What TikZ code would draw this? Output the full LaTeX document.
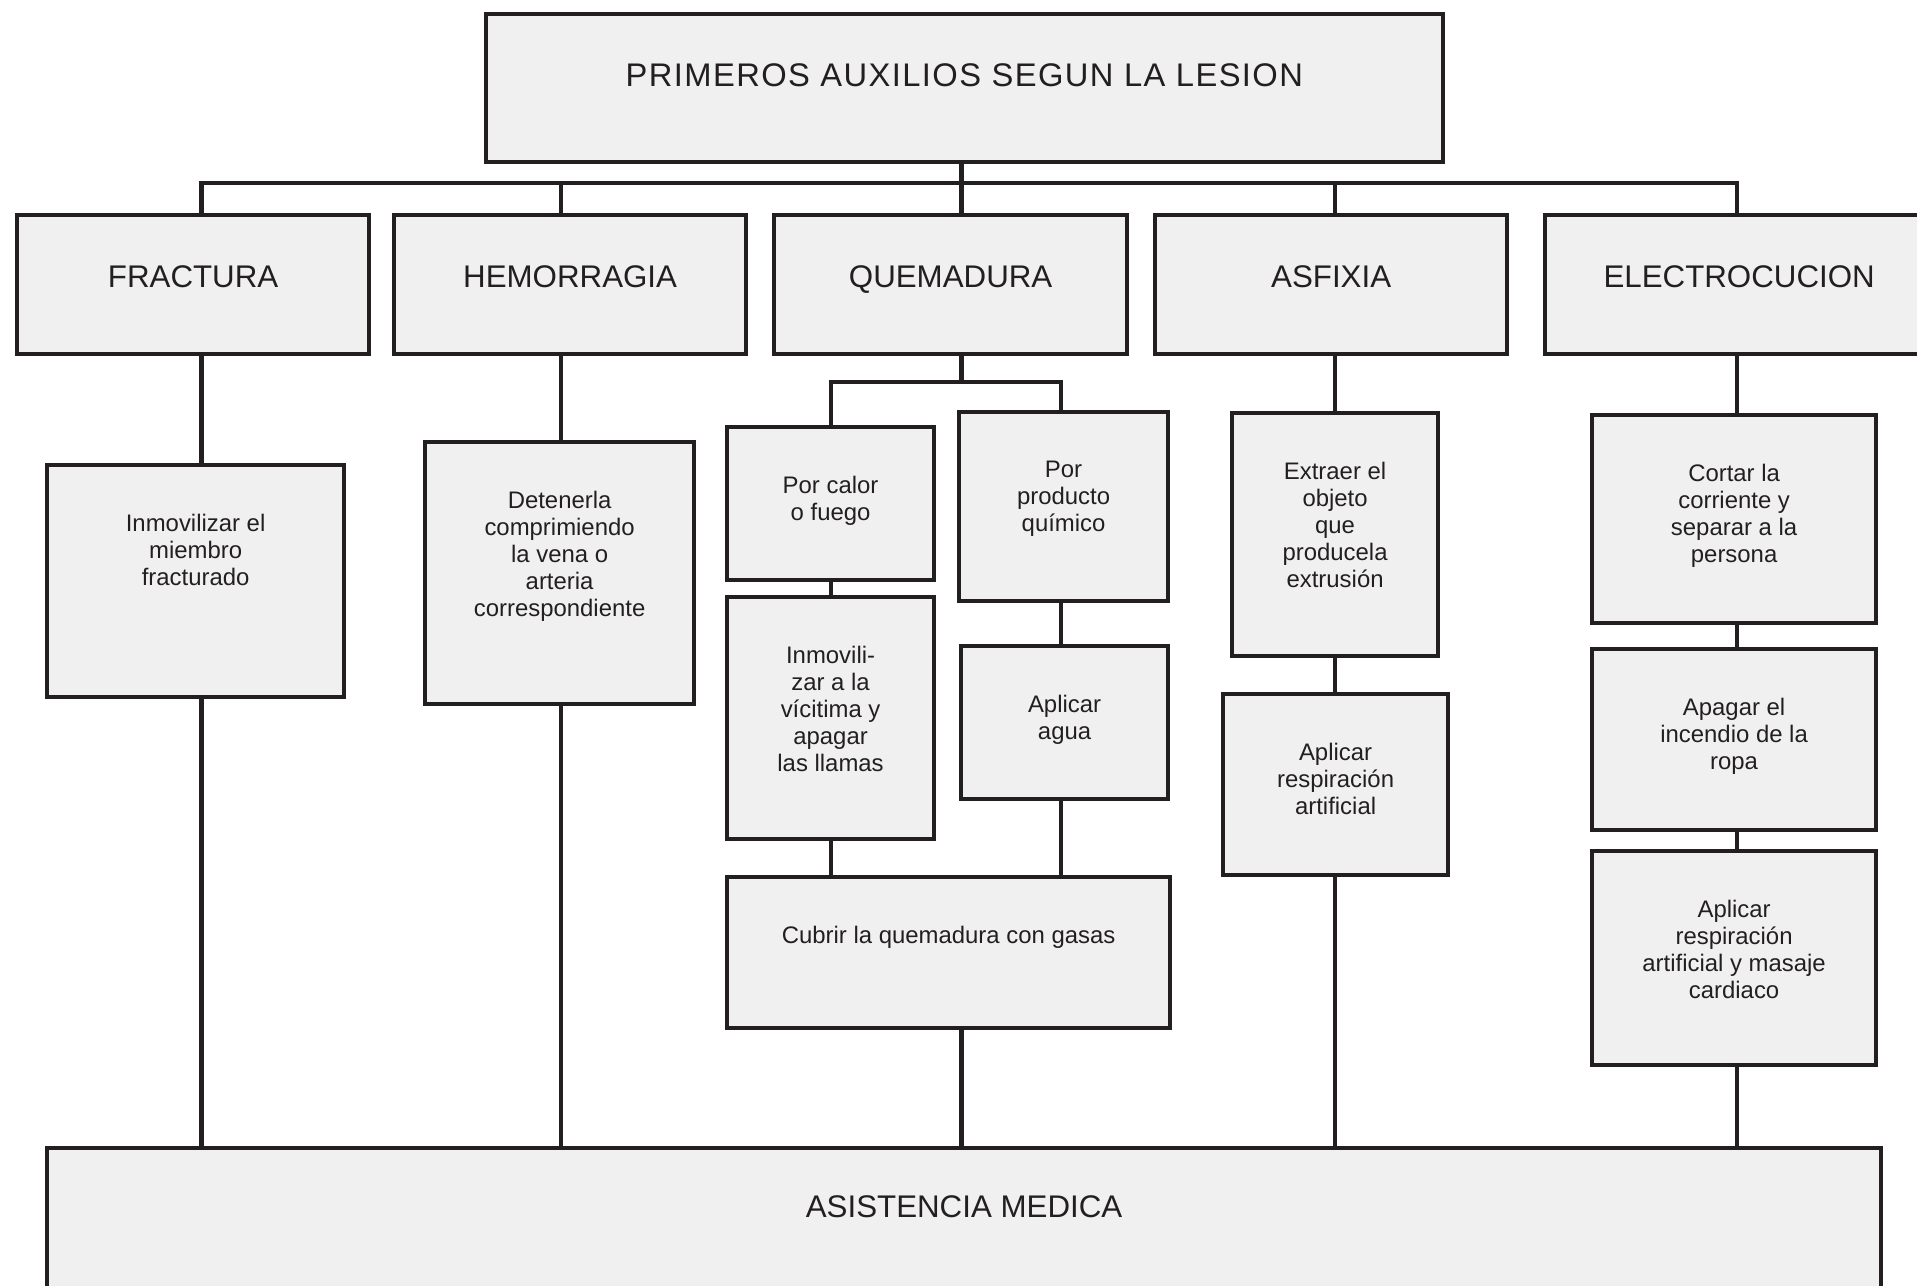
\documentclass[tikz,border=0pt]{standalone}
\usepackage{fontspec}
\setsansfont{Liberation Sans}
\usepackage{tikz}

\definecolor{fondo}{HTML}{F0F0F0}
\definecolor{linea}{HTML}{231F20}

\begin{document}
\begin{tikzpicture}[
  x=0.01cm, y=-0.01cm,
  font=\sffamily,
  caja/.style={
    draw=linea,
    fill=fondo,
    line width=1.15pt,
    anchor=north west,
    inner sep=0pt
  },
  rotulo/.style={
    font=\sffamily\fontsize{8.9}{10.7}\selectfont,
    text=linea,
    anchor=north,
    yshift=-0.52cm,
    inner sep=0pt
  },
  texto/.style={
    font=\sffamily\fontsize{6.8}{7.7}\selectfont,
    text=linea,
    align=center,
    anchor=north,
    yshift=-0.5cm,
    inner sep=0pt
  },
  enlace/.style={
    draw=linea,
    line width=1.15pt
  }
]
\useasboundingbox (0,0) rectangle (1917,1286);
\clip (0,0) rectangle (1917,1286);

% Titulo y tipos de lesion
\node[caja, minimum width=9.56cm, minimum height=1.48cm,
  label={[rotulo, font=\sffamily\fontsize{9.3}{11}\selectfont\addfontfeatures{LetterSpace=4.3},
    yshift=0.01cm]north:PRIMEROS AUXILIOS SEGUN LA LESION}] (tit) at (484,12) {};
\node[caja, minimum width=3.52cm, minimum height=1.39cm,
  label={[rotulo]north:FRACTURA}] (fr) at (15,213) {};
\node[caja, minimum width=3.52cm, minimum height=1.39cm,
  label={[rotulo]north:HEMORRAGIA}] (he) at (392,213) {};
\node[caja, minimum width=3.53cm, minimum height=1.39cm,
  label={[rotulo]north:QUEMADURA}] (qu) at (772,213) {};
\node[caja, minimum width=3.52cm, minimum height=1.39cm,
  label={[rotulo]north:ASFIXIA}] (as) at (1153,213) {};
\node[caja, minimum width=3.88cm, minimum height=1.39cm,
  label={[rotulo]north:ELECTROCUCION}] (el) at (1543,213) {};

% Fractura y hemorragia
\node[caja, minimum width=2.97cm, minimum height=2.32cm,
  label={[texto]north:{Inmovilizar el\\miembro\\fracturado}}] (fr2) at (45,463) {};
\node[caja, minimum width=2.69cm, minimum height=2.62cm,
  label={[texto]north:{Detenerla\\comprimiendo\\la vena o\\arteria\\correspondiente}}] (he2) at (423,440) {};

% Quemadura
\node[caja, minimum width=2.07cm, minimum height=1.53cm,
  label={[texto]north:{Por calor\\o fuego}}] (pc) at (725,425) {};
\node[caja, minimum width=2.07cm, minimum height=2.42cm,
  label={[texto]north:{Inmovili-\\zar a la\\vícitima y\\apagar\\las llamas}}] (inm) at (725,595) {};
\node[caja, minimum width=2.09cm, minimum height=1.89cm,
  label={[texto]north:{Por\\producto\\químico}}] (pp) at (957,410) {};
\node[caja, minimum width=2.07cm, minimum height=1.53cm,
  label={[texto]north:{Aplicar\\agua}}] (ag) at (959,644) {};
\node[caja, minimum width=4.43cm, minimum height=1.51cm,
  label={[texto]north:{Cubrir la quemadura con gasas}}] (cub) at (725,875) {};

% Asfixia
\node[caja, minimum width=2.06cm, minimum height=2.43cm,
  label={[texto]north:{Extraer el\\objeto\\que\\producela\\extrusión}}] (ex) at (1230,411) {};
\node[caja, minimum width=2.25cm, minimum height=1.81cm,
  label={[texto]north:{Aplicar\\respiración\\artificial}}] (ar) at (1221,692) {};

% Electrocucion
\node[caja, minimum width=2.84cm, minimum height=2.08cm,
  label={[texto]north:{Cortar la\\corriente y\\separar a la\\persona}}] (co) at (1590,413) {};
\node[caja, minimum width=2.84cm, minimum height=1.81cm,
  label={[texto]north:{Apagar el\\incendio de la\\ropa}}] (ap) at (1590,647) {};
\node[caja, minimum width=2.84cm, minimum height=2.14cm,
  label={[texto]north:{Aplicar\\respiración\\artificial y masaje\\cardiaco}}] (am) at (1590,849) {};

% Asistencia
\node[caja, minimum width=18.33cm, minimum height=1.6cm,
  label={[rotulo, yshift=0.03cm]north:ASISTENCIA MEDICA}] (asis) at (45,1146) {};

% Columnas de enlace
\coordinate (c1) at (201.5,183);
\coordinate (c2) at (561,183);
\coordinate (c3) at (961.5,183);
\coordinate (c4) at (1335,183);
\coordinate (c5) at (1737,183);
\coordinate (q1) at (831,382);
\coordinate (q2) at (1061,382);

% Reparto desde el titulo
\draw[enlace] (c1 |- fr.north) -- (c1) -- (c5) -- (c5 |- el.north);
\draw[enlace] (c2) -- (c2 |- he.north);
\draw[enlace] (c3 |- tit.south) -- (c3 |- qu.north);
\draw[enlace] (c4) -- (c4 |- as.north);

% Fractura, hemorragia
\draw[enlace] (c1 |- fr.south) -- (c1 |- fr2.north);
\draw[enlace] (c1 |- fr2.south) -- (c1 |- asis.north);
\draw[enlace] (c2 |- he.south) -- (c2 |- he2.north);
\draw[enlace] (c2 |- he2.south) -- (c2 |- asis.north);

% Quemadura
\draw[enlace] (c3 |- qu.south) -- (c3 |- q1);
\draw[enlace] (q1 |- pc.north) -- (q1) -- (q2) -- (q2 |- pp.north);
\draw[enlace] (q1 |- pc.south) -- (q1 |- inm.north);
\draw[enlace] (q1 |- inm.south) -- (q1 |- cub.north);
\draw[enlace] (q2 |- pp.south) -- (q2 |- ag.north);
\draw[enlace] (q2 |- ag.south) -- (q2 |- cub.north);
\draw[enlace] (c3 |- cub.south) -- (c3 |- asis.north);

% Asfixia
\draw[enlace] (c4 |- as.south) -- (c4 |- ex.north);
\draw[enlace] (c4 |- ex.south) -- (c4 |- ar.north);
\draw[enlace] (c4 |- ar.south) -- (c4 |- asis.north);

% Electrocucion
\draw[enlace] (c5 |- el.south) -- (c5 |- co.north);
\draw[enlace] (c5 |- co.south) -- (c5 |- ap.north);
\draw[enlace] (c5 |- ap.south) -- (c5 |- am.north);
\draw[enlace] (c5 |- am.south) -- (c5 |- asis.north);

\end{tikzpicture}
\end{document}
